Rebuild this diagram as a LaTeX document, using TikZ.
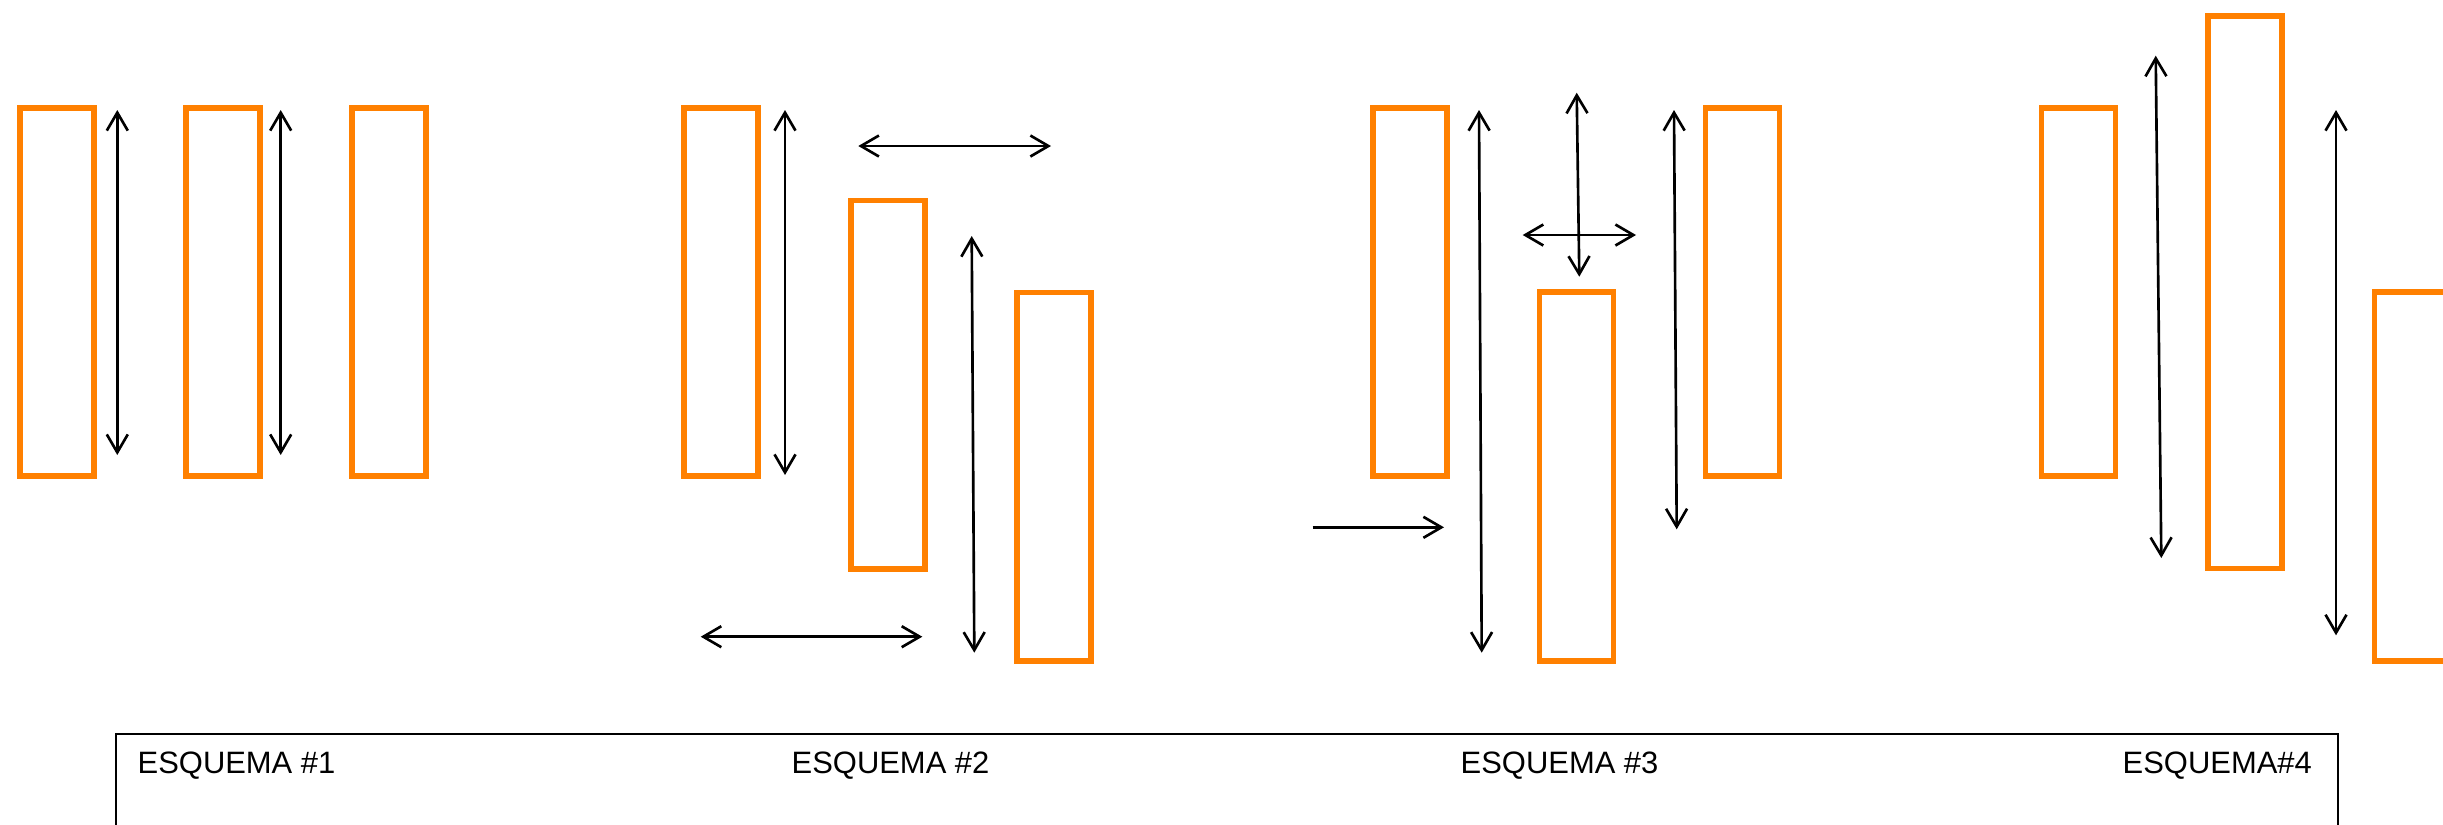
\documentclass[tikz,border=0pt]{standalone}
\usepackage{fontspec}
\setmainfont{Liberation Sans}
\usepackage{xcolor}
\usetikzlibrary{arrows.meta}
\definecolor{slaborange}{RGB}{255,128,0}

\begin{document}
\begin{tikzpicture}[x=0.1mm,y=-0.1mm,font=\fontsize{8.8}{10.5}\selectfont,
  >={Straight Barb[length=1.8mm,width=2.1mm]},
  slab/.style={draw=slaborange,line width=1.6pt,minimum width=7.4mm,
    minimum height=36.85mm,inner sep=0pt,outer sep=0pt},
  tallslab/.style={slab,minimum height=55.25mm},
  move/.style={<->,line width=0.75pt},
  push/.style={->,line width=0.75pt},
  tag/.style={anchor=base west,inner sep=0pt}]
\useasboundingbox (0,0) rectangle (2443,824);
\newcommand{\way}[4]{%
  \coordinate (#1s) at (#2);
  \coordinate (#1e) at (#3);
  \draw[#4] (#1s) -- (#1e);
}

% esquema 1
\node[slab] (s1a) at (57,292) {};
\node[slab] (s1b) at (223,292) {};
\node[slab] (s1c) at (389,292) {};
\way{w1a}{117.3,110}{117.3,455}{move}
\way{w1b}{280.7,110}{280.7,455}{move}

% esquema 2
\node[slab] (s2a) at (721.3,292) {};
\node[slab] (s2b) at (887.7,384.7) {};
\node[slab] (s2c) at (1053.7,476.9) {};
\way{w2a}{785,110}{785,475}{move}
\way{w2b}{858.3,146}{1051,146}{move}
\way{w2c}{971.7,236}{974.3,652.7}{move}
\way{w2d}{700.7,636.7}{922.3,636.7}{move}

% esquema 3
\node[slab] (s3a) at (1410,292) {};
\node[slab] (s3b) at (1576.3,476.5) {};
\node[slab] (s3c) at (1742.5,292) {};
\way{w3a}{1479,110}{1481.7,652.7}{move}
\way{w3b}{1576.7,92.7}{1579.3,276.7}{move}
\way{w3c}{1522.7,235}{1636,235}{move}
\way{w3d}{1674,110}{1676.7,529.3}{move}
\way{w3e}{1312.7,527.3}{1444,527.3}{push}

% esquema 4
\node[slab] (s4a) at (2078.3,292) {};
\node[tallslab] (s4b) at (2244.7,292.2) {};
\node[slab] (s4c) at (2411.3,476.5) {};
\way{w4a}{2155.7,55.7}{2161.3,558}{move}
\way{w4b}{2336,110}{2336,635.3}{move}

% pie
\draw[line width=0.45pt] (116,900) -- (116,734) -- (2338,734) -- (2338,900);
\node[tag] (t1) at (137,773) {ESQUEMA \#1};
\node[tag] (t2) at (791,773) {ESQUEMA \#2};
\node[tag] (t3) at (1460,773) {ESQUEMA \#3};
\node[tag] (t4) at (2122,773) {ESQUEMA\#4};
\end{tikzpicture}
\end{document}
